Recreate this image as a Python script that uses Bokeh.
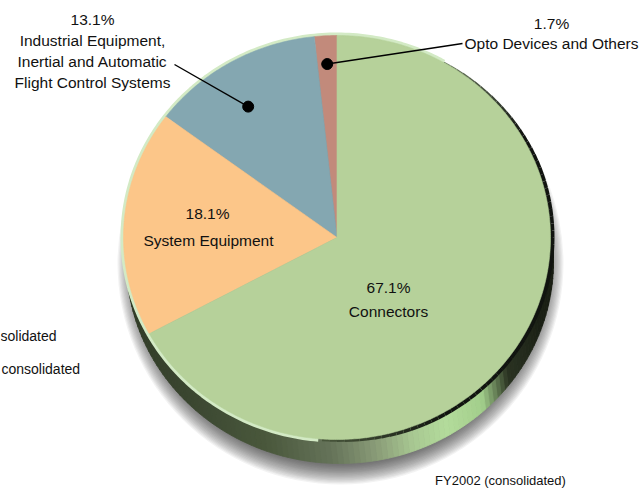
import numpy as np
from bokeh.plotting import figure
from bokeh.models import Range1d
from bokeh.core.properties import value
from bokeh.embed import file_html
from bokeh.resources import INLINE

# ---------------- data ----------------
categories = ["Opto Devices and Others", "Industrial Equipment", "System Equipment", "Connectors"]
shares = [1.7, 13.1, 18.1, 67.1]
pct_labels = ["1.7%", "13.1%", "18.1%", "67.1%"]
name_lines = [
    ["Opto Devices and Others"],
    ["Industrial Equipment,", "Inertial and Automatic", "Flight Control Systems"],
    ["System Equipment"],
    ["Connectors"],
]
slice_colors = ["#C28A7B", "#84A7B1", "#FCC689", "#B6D19A"]
caption = "FY2002 (consolidated)"
side_texts = ["solidated", "consolidated"]

# ---------------- geometry (layout) ----------------
W, H = 644, 488
CX, CY, RX, RY = 336.5, 237.0, 213.5, 202.0
DX, DY = 3.0, 24.0  # depth of the pie side

FONT = value("Liberation Sans")

p = figure(width=W, height=H, output_backend="svg", toolbar_location=None,
           x_range=Range1d(0, W), y_range=Range1d(H, 0), min_border=0,
           background_fill_color="white", border_fill_color="white")
p.axis.visible = False
p.grid.visible = False
p.outline_line_color = None


def ell(t_deg, f=1.0, cx=CX, cy=CY, rx=RX, ry=RY):
    """screen angle: 0 = right, 90 = bottom (y grows downward)."""
    t = np.radians(t_deg)
    return cx + rx * f * np.cos(t), cy + ry * f * np.sin(t)


def hexrgb(h):
    h = h.lstrip("#")
    return np.array([int(h[i:i + 2], 16) for i in (0, 2, 4)], float)


def interp_color(t, keys, cols):
    rgb = np.array([hexrgb(c) for c in cols])
    r = np.interp(t, keys, rgb[:, 0])
    g = np.interp(t, keys, rgb[:, 1])
    b = np.interp(t, keys, rgb[:, 2])
    return "#%02x%02x%02x" % (int(r), int(g), int(b))


# ---------------- shadow ----------------
n_sh = 18
sh_rx = np.linspace(223, 203, n_sh)
sh_ry = np.linspace(221, 200, n_sh)
p.ellipse(x=[340] * n_sh, y=[263] * n_sh, width=list(2 * sh_rx), height=list(2 * sh_ry),
          fill_color="#20202a", fill_alpha=0.055, line_color=None)

# ---------------- side of the pie ----------------
side_keys = [-25, 20, 38, 48, 60, 70, 80, 92, 110, 135, 160, 200]
side_cols = ["#141810", "#1b2015", "#2a3322", "#a3cf8c", "#b4dc9c", "#a8c892",
             "#8a9c78", "#66745a", "#4a583c", "#3a4630", "#323d28", "#2c3522"]
ts = np.arange(-25, 200, 1.5)
qx, qy, qc = [], [], []
for a, b in zip(ts[:-1], ts[1:]):
    x1, y1 = ell(a)
    x2, y2 = ell(b)
    qx.append([x1, x2, x2 + DX, x1 + DX])
    qy.append([y1, y2, y2 + DY, y1 + DY])
    qc.append(interp_color((a + b) / 2, side_keys, side_cols))
p.patches(qx, qy, fill_color=qc, line_color=qc, line_width=0.8)

# ---------------- rims ----------------
tl = np.linspace(95, 300, 200)
lx, ly = ell(tl)
p.line(lx, ly, line_color="#D3EAC5", line_width=6)

tr = np.arange(-60, 96, 2.0)
rx_, ry_, rc, rw = [], [], [], []
for a, b in zip(tr[:-1], tr[1:]):
    x1, y1 = ell(a)
    x2, y2 = ell(b)
    rx_.append([x1, x2])
    ry_.append([y1, y2])
    m = (a + b) / 2
    rc.append(interp_color(m, [-60, -30, 60, 95], ["#6f7f62", "#111410", "#111410", "#4c5a3e"]))
    rw.append(float(np.interp(m, [-60, -20, 70, 95], [2.0, 8.0, 8.0, 4.0])))
p.multi_line(rx_, ry_, line_color=rc, line_width=rw)

# ---------------- top face slices ----------------
# counter-clockwise from 12 o'clock: Opto, Industrial, System, Connectors
total = float(sum(shares))
cum = np.concatenate([[0], np.cumsum(shares)]) / total * 360.0


def face_pt(theta_ccw_up, f=1.0):
    th = np.radians(theta_ccw_up)
    return CX - RX * f * np.sin(th), CY - RY * f * np.cos(th)


xs, ys = [], []
for i in range(len(shares)):
    th = np.linspace(cum[i], cum[i + 1], max(4, int(shares[i] * 6)))
    fx, fy = face_pt(th)
    xs.append([CX] + list(fx))
    ys.append([CY] + list(fy))
p.patches(xs, ys, fill_color=slice_colors, line_color=slice_colors, line_width=0.6)

# ---------------- leader dots and lines ----------------
mid = (cum[:-1] + cum[1:]) / 2
d0 = face_pt(mid[0], 0.86)
d1 = face_pt(mid[1] + 3, 0.77)
p.scatter([d0[0], d1[0]], [d0[1], d1[1]], size=11, fill_color="black", line_color="black")
p.line([d0[0], 462], [d0[1], 43], line_color="black", line_width=1.4)
p.line([d1[0], 174], [d1[1], 64], line_color="black", line_width=1.4)

# ---------------- texts ----------------
TS = "15.5px"
tcol = "#111111"
# Opto
p.text([551], [23], text=[pct_labels[0]], text_align="center", text_baseline="middle",
       text_font=FONT, text_font_size=TS, text_color=tcol)
p.text([551], [43], text=[name_lines[0][0]], text_align="center", text_baseline="middle",
       text_font=FONT, text_font_size=TS, text_color=tcol)
# Industrial
p.text([92], [19], text=[pct_labels[1]], text_align="center", text_baseline="middle",
       text_font=FONT, text_font_size=TS, text_color=tcol)
p.text([92, 92, 92], [40, 61, 82], text=name_lines[1], text_align="center", text_baseline="middle",
       text_font=FONT, text_font_size=TS, text_color=tcol)
# System
p.text([207], [213], text=[pct_labels[2]], text_align="center", text_baseline="middle",
       text_font=FONT, text_font_size=TS, text_color=tcol)
p.text([208], [240], text=[name_lines[2][0]], text_align="center", text_baseline="middle",
       text_font=FONT, text_font_size=TS, text_color=tcol)
# Connectors
p.text([388], [287], text=[pct_labels[3]], text_align="center", text_baseline="middle",
       text_font=FONT, text_font_size=TS, text_color=tcol)
p.text([388], [311], text=[name_lines[3][0]], text_align="center", text_baseline="middle",
       text_font=FONT, text_font_size=TS, text_color=tcol)
# caption and clipped side texts
p.text([500], [480], text=[caption], text_align="center", text_baseline="middle",
       text_font=FONT, text_font_size="13px", text_color=tcol)
p.text([0, 1], [335, 368], text=side_texts, text_align="left", text_baseline="middle",
       text_font=FONT, text_font_size="14px", text_color=tcol)

open("out.html", "w").write(file_html(p, INLINE))
